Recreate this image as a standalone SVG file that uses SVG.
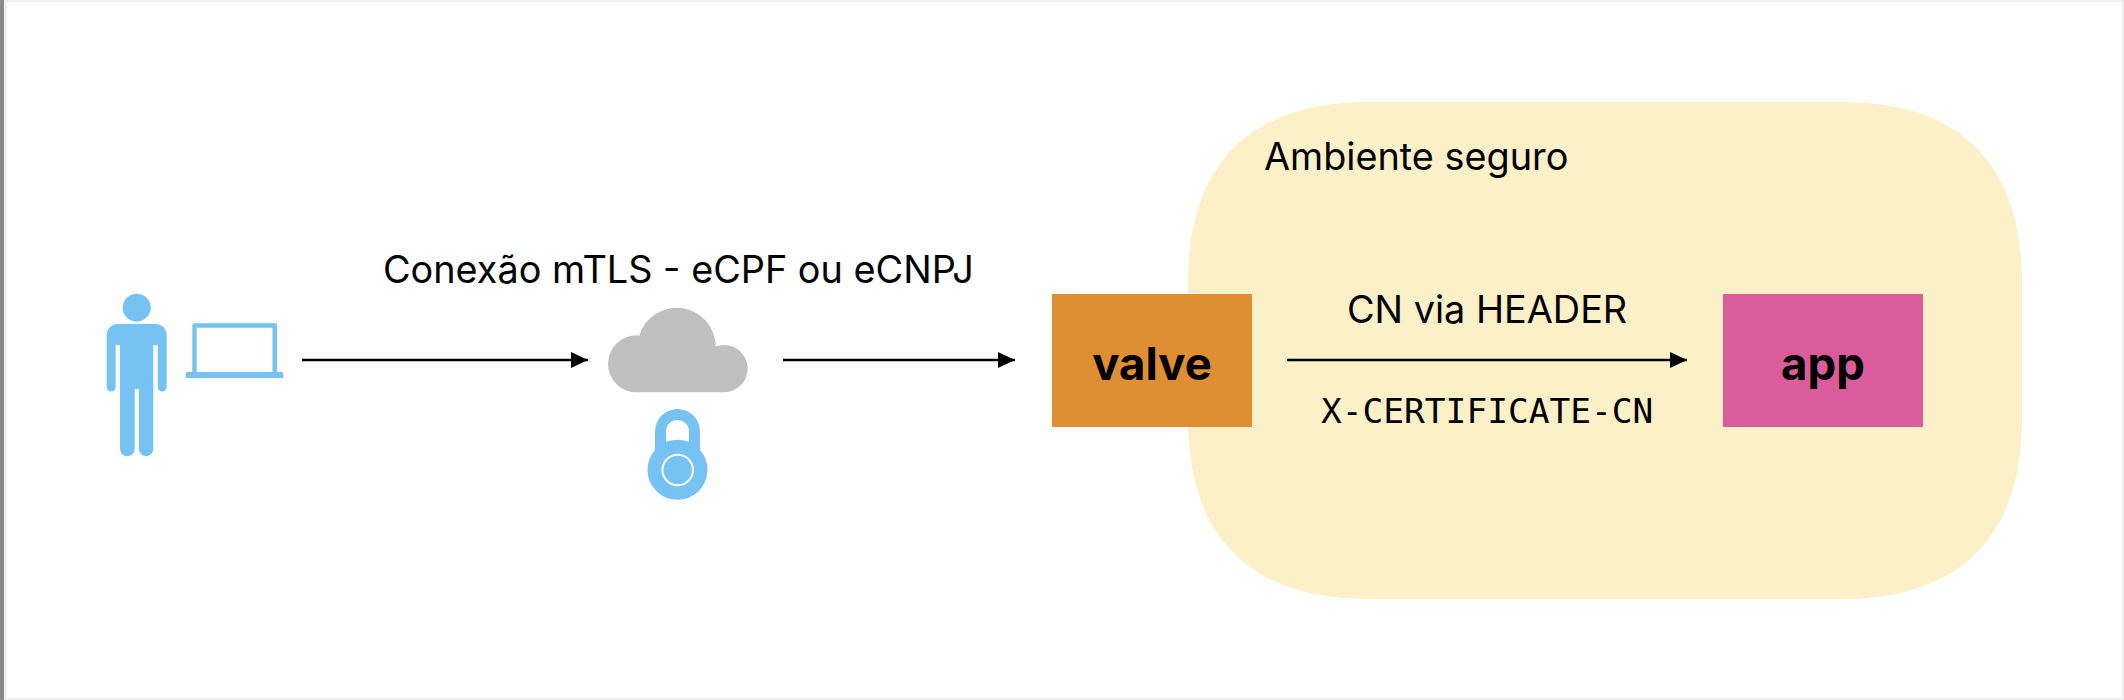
<svg xmlns="http://www.w3.org/2000/svg" width="2124" height="700" viewBox="0 0 2124 700">
<defs>
<style>
text{font-family:"Inter","Liberation Sans",sans-serif;fill:#000}
.t{font-size:37.800px}
.b{font-size:45.500px;font-weight:700;text-anchor:middle}
.m{font-family:"DejaVu Sans Mono","Liberation Mono",monospace;font-size:34.500px}
.c{fill:none;stroke:#000;stroke-width:2.500;marker-end:url(#a)}
.i{fill:#76c2f3}
</style>
<marker id="a" markerUnits="userSpaceOnUse" markerWidth="18" markerHeight="18" refX="17" refY="8" orient="auto"><path d="M0 0L17 8L0 16Z" fill="#000"/></marker>
</defs>
<rect width="2124" height="700" fill="#fff"/>
<rect width="2124" height="2" fill="#eee"/>
<rect y="698" width="2124" height="2" fill="#eee"/>
<rect x="2122" width="2" height="700" fill="#eee"/>
<rect x="0" width="7" height="700" fill="#efefef"/>
<rect x="0" width="4" height="700" fill="#8a8a8a"/>
<g id="ambiente">
<path d="M1368 102H1842C1960 102 2022 164 2022 282V419C2022 537 1960 599 1842 599H1368C1250 599 1188 537 1188 419V282C1188 164 1250 102 1368 102Z" fill="#fcf0c9"/>
<text class="t" x="1264" y="170">Ambiente seguro</text>
</g>
<g id="usuario">
<circle class="i" cx="136.700" cy="307.700" r="14"/>
<path class="i" d="M118 324H155.500C162 324 166.700 329 166.700 335V387A4.450 4.450 0 0 1 157.800 387V345H153.300V449A7.150 7.150 0 0 1 139 449V389H134.700V449A7.350 7.350 0 0 1 120 449V345H115.600V387A4.450 4.450 0 0 1 106.700 387V335C106.700 329 111 324 118 324Z"/>
<path class="i" fill-rule="evenodd" d="M194 323.300H275.500Q277 323.300 277 325V372H282Q283.300 372 283.300 373.500V376.500Q283.300 378 282 378H187Q185.700 378 185.700 376.500V373.500Q185.700 372 187 372H192.300V325Q192.300 323.300 194 323.300ZM196.700 327.700V372H272.500V327.700Z"/>
</g>
<g id="nuvem">
<path fill="#bfbfbf" d="M636.500 392.300A28.500 28.500 0 0 1 636.500 335.300Q638 335.300 639.300 335.700A39 39 0 0 1 715.700 346.500Q719 345 724 345A23.650 23.650 0 0 1 724 392.300Z"/>
<path class="i" fill-rule="evenodd" d="M655 450V431.500A22.500 22.500 0 0 1 700 431.500V450A30 30 0 1 1 655 450ZM666 441.700Q677.500 438 689 441.700V431.500A11.500 11.500 0 0 0 666 431.500Z"/>
<circle cx="677.700" cy="470" r="15.300" fill="none" stroke="#fff" stroke-width="2"/>
</g>
<g id="valve">
<rect x="1052" y="294" width="200" height="133" fill="#e08e33"/>
<text class="b" x="1152" y="380">valve</text>
</g>
<g id="app">
<rect x="1723" y="294" width="200" height="133" fill="#da5c9b"/>
<text class="b" x="1823" y="380">app</text>
</g>
<g id="conectores">
<path class="c" d="M302 360H588"/>
<path class="c" d="M783 360H1015"/>
<path class="c" d="M1287 360H1687"/>
</g>
<g id="rotulos">
<text class="t" x="383" y="283">Conexão mTLS - eCPF ou eCNPJ</text>
<text class="t" x="1347" y="323">CN via HEADER</text>
<text class="m" x="1321" y="423">X-CERTIFICATE-CN</text>
</g>
</svg>
